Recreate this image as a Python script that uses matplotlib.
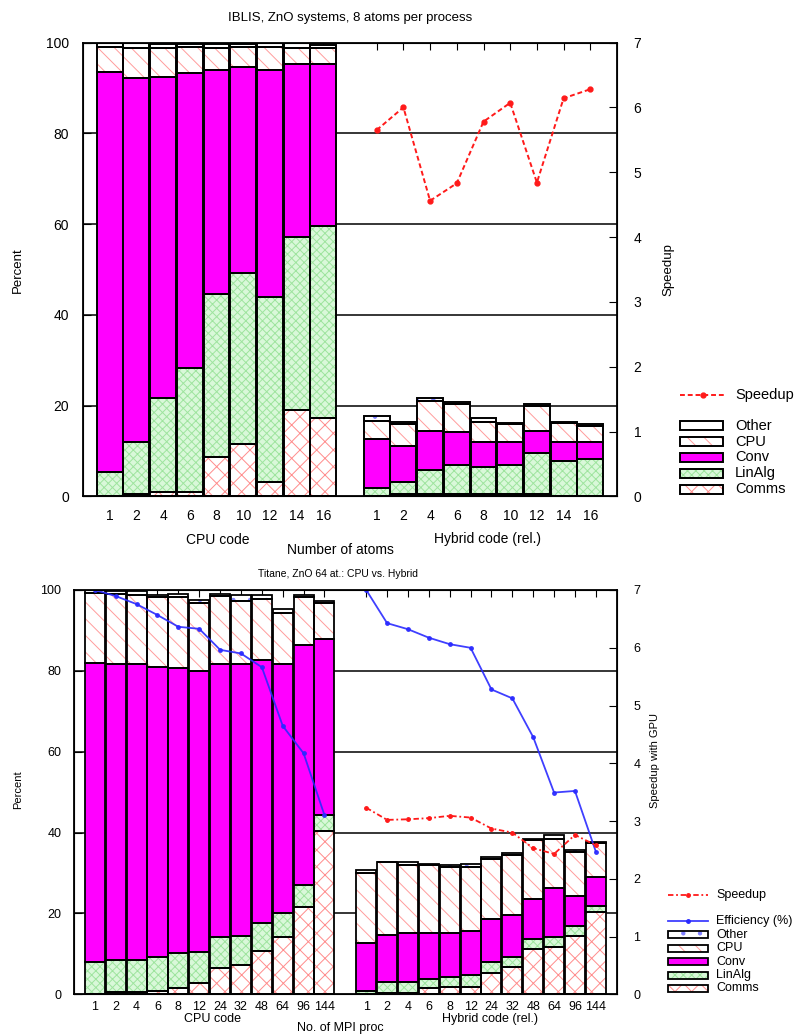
import numpy as np
import matplotlib
matplotlib.use("Agg")
import matplotlib.pyplot as plt
from matplotlib.patches import Rectangle
from matplotlib.lines import Line2D

plt.rcParams['font.family'] = ['Liberation Sans', 'DejaVu Sans']
plt.rcParams['hatch.linewidth'] = 0.7

# ---------------- data: top panel (IBLIS) ----------------
top_labels = ["1", "2", "4", "6", "8", "10", "12", "14", "16"]
top_cpu_comms = [0.0, 0.5, 1.1, 1.1, 8.8, 11.6, 3.1, 19.0, 17.2]
top_cpu_linalg = [5.3, 11.4, 20.5, 27.1, 35.7, 37.7, 40.9, 38.2, 42.4]
top_cpu_conv = [88.1, 80.2, 70.9, 65.1, 49.5, 45.4, 49.9, 38.0, 35.6]
top_cpu_cpu = [5.7, 6.6, 6.2, 5.8, 4.7, 4.2, 5.2, 3.5, 3.5]
top_cpu_other = [0.8, 1.1, 0.9, 0.5, 0.9, 0.7, 0.7, 1.1, 0.7]

top_hyb_comms = [0.0, 0.5, 0.5, 0.5, 0.5, 0.5, 0.5, 0.2, 0.2]
top_hyb_linalg = [1.8, 2.6, 5.3, 6.4, 6.1, 6.4, 9.1, 7.7, 8.1]
top_hyb_conv = [10.9, 8.0, 8.7, 7.2, 5.3, 5.0, 4.9, 4.0, 3.6]
top_hyb_cpu = [4.0, 4.8, 6.6, 6.2, 4.6, 4.0, 5.4, 4.2, 3.7]
top_hyb_other = [1.1, 0.4, 0.7, 0.5, 0.7, 0.2, 0.5, 0.2, 0.4]

top_speedup = [5.65, 6.00, 4.56, 4.83, 5.78, 6.07, 4.84, 6.14, 6.28]

# ---------------- data: bottom panel (Titane) ----------------
bot_labels = ["1", "2", "4", "6", "8", "12", "24", "32", "48", "64", "96", "144"]
bot_cpu_comms = [0.0, 0.5, 0.5, 0.9, 1.6, 2.7, 6.6, 7.2, 10.7, 14.2, 21.5, 40.5]
bot_cpu_linalg = [8.1, 8.0, 8.0, 8.3, 8.5, 7.8, 7.5, 7.3, 6.9, 5.8, 5.5, 3.8]
bot_cpu_conv = [73.9, 73.1, 73.1, 71.8, 70.5, 69.5, 67.5, 67.1, 65.1, 61.6, 59.4, 43.6]
bot_cpu_cpu = [17.3, 17.4, 17.2, 17.2, 17.7, 16.9, 17.0, 15.8, 15.1, 12.8, 11.8, 8.8]
bot_cpu_other = [0.7, 0.8, 0.9, 0.6, 0.8, 0.6, 0.3, 1.4, 1.0, 0.8, 0.6, 0.7]

bot_hyb_comms = [0.0, 0.3, 0.3, 1.5, 1.9, 1.9, 5.2, 6.8, 11.1, 11.8, 14.5, 20.4]
bot_hyb_linalg = [0.8, 2.8, 2.8, 2.2, 2.3, 2.9, 2.9, 2.5, 2.5, 2.3, 2.4, 1.4]
bot_hyb_conv = [12.0, 11.6, 12.0, 11.4, 10.9, 10.9, 10.5, 10.3, 10.0, 12.3, 7.5, 7.1]
bot_hyb_cpu = [17.3, 17.9, 16.9, 16.9, 16.3, 15.7, 14.9, 14.9, 14.6, 11.9, 10.9, 8.4]
bot_hyb_other = [0.6, 0.2, 0.6, 0.2, 0.6, 0.8, 0.5, 0.5, 0.2, 1.1, 0.4, 0.3]

bot_speedup = [3.23, 3.02, 3.03, 3.05, 3.09, 3.06, 2.87, 2.80, 2.53, 2.43, 2.76, 2.58]
bot_eff_cpu = [100.0, 98.5, 96.5, 93.8, 90.9, 90.4, 85.2, 84.3, 80.9, 66.4, 59.6, 44.3]
bot_eff_hyb = [100.0, 91.8, 90.3, 88.2, 86.6, 85.7, 75.4, 73.2, 63.6, 49.9, 50.3, 35.3]

# ---------------- styles ----------------
styles = {
    "Comms": dict(fc="white", hc="#ff8c8c", hatch="xx"),
    "LinAlg": dict(fc="#d9f8d9", hc="#9ee49e", hatch="xxxx"),
    "Conv": dict(fc="#ff00ff", hc=None, hatch=None),
    "CPU": dict(fc="white", hc="#ff9c9c", hatch="\\\\"),
    "Other": dict(fc="white", hc="#8080ff", hatch="."),
}
order = ["Comms", "LinAlg", "Conv", "CPU", "Other"]

W, H = 798, 1034
fig = plt.figure(figsize=(W / 100, H / 100), dpi=100)


def fx(px):
    return px / W


def fy(py):
    return 1 - py / H


def stack(ax, xs, comps, width, lw):
    bottom = np.zeros(len(xs))
    for name, vals in zip(order, comps):
        st = styles[name]
        vals = np.asarray(vals, dtype=float)
        if st["hatch"]:
            ax.bar(xs, vals, width, bottom=bottom, color=st["fc"], edgecolor=st["hc"],
                   hatch=st["hatch"], linewidth=0, zorder=2)
        else:
            ax.bar(xs, vals, width, bottom=bottom, color=st["fc"], linewidth=0, zorder=2)
        ax.bar(xs, vals, width, bottom=bottom, fill=False, edgecolor="black",
               linewidth=lw, zorder=3)
        bottom = bottom + vals


def legend_patch(x0, x1, yc, h, name, lw):
    st = styles[name]
    r = Rectangle((fx(x0), fy(yc + h / 2)), fx(x1) - fx(x0), (h) / H,
                  transform=fig.transFigure, facecolor=st["fc"],
                  edgecolor=st["hc"] if st["hc"] else st["fc"],
                  hatch=st["hatch"], linewidth=0)
    fig.add_artist(r)
    r2 = Rectangle((fx(x0), fy(yc + h / 2)), fx(x1) - fx(x0), (h) / H,
                   transform=fig.transFigure, fill=False, edgecolor="black", linewidth=lw)
    fig.add_artist(r2)


# ================= TOP PANEL =================
ax1 = fig.add_axes([fx(83), fy(496.5), fx(617) - fx(83), (496.5 - 42.5) / H])
n1 = len(top_labels)
x_cpu1 = np.arange(n1)
x_hyb1 = np.arange(n1) + n1 + 1
for g in [20, 40, 60, 80]:
    ax1.axhline(g, color="black", lw=1.1, zorder=1)
stack(ax1, x_cpu1, [top_cpu_comms, top_cpu_linalg, top_cpu_conv, top_cpu_cpu, top_cpu_other], 0.97, 1.4)
stack(ax1, x_hyb1, [top_hyb_comms, top_hyb_linalg, top_hyb_conv, top_hyb_cpu, top_hyb_other], 0.97, 1.4)
ax1.set_xlim(-1, 2 * n1 + 1)
ax1.set_ylim(0, 100)
ax1.set_yticks([0, 20, 40, 60, 80, 100])
ax1.set_xticks(np.concatenate([x_cpu1, x_hyb1]))
ax1.set_xticklabels(top_labels + top_labels)
ax1.tick_params(axis="x", bottom=False, top=True, direction="in", length=5, labelsize=10, pad=9)
ax1.tick_params(axis="y", direction="in", length=6, labelsize=10, pad=10)
for s in ax1.spines.values():
    s.set_linewidth(1.3)
ax1r = ax1.twinx()
ax1r.plot(x_hyb1, top_speedup, color="#ff1a1a", ls=(0, (2.5, 1.5)), lw=1.4, marker="o", ms=3.5, zorder=5)
ax1r.set_ylim(0, 7)
ax1r.set_yticks(range(8))
ax1r.tick_params(axis="y", direction="in", length=6, labelsize=10, pad=12)

fig.text(fx(350), fy(18), "IBLIS, ZnO systems, 8 atoms per process", ha="center", va="center", fontsize=9.5)
fig.text(fx(18), fy(270), "Percent", rotation=90, ha="center", va="center", fontsize=9.5)
fig.text(fx(668), fy(270), "Speedup", rotation=90, ha="center", va="center", fontsize=9.5)
fig.text(fx(218), fy(540), "CPU code", ha="center", va="center", fontsize=10)
fig.text(fx(488), fy(539), "Hybrid code (rel.)", ha="center", va="center", fontsize=10)
fig.text(fx(340), fy(550), "Number of atoms", ha="center", va="center", fontsize=10)

# top legend
fig.add_artist(Line2D([fx(680), fx(726)], [fy(395), fy(395)], transform=fig.transFigure,
                      color="#ff1a1a", ls=(0, (2.5, 1.5)), lw=1.4))
fig.add_artist(Line2D([fx(703)], [fy(395)], transform=fig.transFigure, color="#ff1a1a",
                      marker="o", ms=3.5, ls="none"))
fig.text(fx(735), fy(395), "Speedup", ha="left", va="center", fontsize=10.5)
for name, yc in zip(["Other", "CPU", "Conv", "LinAlg", "Comms"], [426, 441.5, 457, 473, 489]):
    legend_patch(680, 723, yc, 9, name, 1.4)
    fig.text(fx(735), fy(yc), name, ha="left", va="center", fontsize=10.5)

# ================= BOTTOM PANEL =================
ax2 = fig.add_axes([fx(74), fy(994.3), fx(616.7) - fx(74), (994.3 - 590) / H])
n2 = len(bot_labels)
x_cpu2 = np.arange(n2)
x_hyb2 = np.arange(n2) + n2 + 1
for g in [20, 40, 60, 80]:
    ax2.axhline(g, color="black", lw=1.1, zorder=1)
stack(ax2, x_cpu2, [bot_cpu_comms, bot_cpu_linalg, bot_cpu_conv, bot_cpu_cpu, bot_cpu_other], 0.96, 1.3)
stack(ax2, x_hyb2, [bot_hyb_comms, bot_hyb_linalg, bot_hyb_conv, bot_hyb_cpu, bot_hyb_other], 0.96, 1.3)
ax2.plot(x_cpu2, bot_eff_cpu, color="#2a2aff", lw=1.3, marker="o", ms=2.5, zorder=6, alpha=0.9)
ax2.plot(x_hyb2, bot_eff_hyb, color="#2a2aff", lw=1.3, marker="o", ms=2.5, zorder=6, alpha=0.9)
ax2.set_xlim(-1, 2 * n2 + 1)
ax2.set_ylim(0, 100)
ax2.set_yticks([0, 20, 40, 60, 80, 100])
ax2.set_xticks(np.concatenate([x_cpu2, x_hyb2]))
ax2.set_xticklabels(bot_labels + bot_labels)
ax2.tick_params(axis="x", bottom=False, top=True, direction="in", length=5, labelsize=9, pad=5)
ax2.tick_params(axis="y", direction="in", length=6, labelsize=9, pad=9)
for s in ax2.spines.values():
    s.set_linewidth(1.3)
ax2r = ax2.twinx()
ax2r.plot(x_hyb2, bot_speedup, color="#ff1a1a", ls=(0, (3, 1.5, 1, 1.5)), lw=1.3, marker="o", ms=2.5, zorder=5)
ax2r.set_ylim(0, 7)
ax2r.set_yticks(range(8))
ax2r.tick_params(axis="y", direction="in", length=6, labelsize=9, pad=12)

fig.text(fx(338), fy(574), "Titane, ZnO 64 at.: CPU vs. Hybrid", ha="center", va="center", fontsize=7.5)
fig.text(fx(18), fy(790), "Percent", rotation=90, ha="center", va="center", fontsize=8)
fig.text(fx(655), fy(760), "Speedup with GPU", rotation=90, ha="center", va="center", fontsize=8)
fig.text(fx(213), fy(1019), "CPU code", ha="center", va="center", fontsize=9)
fig.text(fx(490), fy(1019), "Hybrid code (rel.)", ha="center", va="center", fontsize=9)
fig.text(fx(340), fy(1028), "No. of MPI proc", ha="center", va="center", fontsize=9)

# bottom legend
fig.add_artist(Line2D([fx(668), fx(708)], [fy(895), fy(895)], transform=fig.transFigure,
                      color="#ff1a1a", ls=(0, (3, 1.5, 1, 1.5)), lw=1.3))
fig.add_artist(Line2D([fx(688)], [fy(895)], transform=fig.transFigure, color="#ff1a1a",
                      marker="o", ms=2.5, ls="none"))
fig.text(fx(716), fy(895), "Speedup", ha="left", va="center", fontsize=9)
fig.add_artist(Line2D([fx(668), fx(708)], [fy(921), fy(921)], transform=fig.transFigure,
                      color="#2a2aff", lw=1.3, alpha=0.9))
fig.add_artist(Line2D([fx(688)], [fy(921)], transform=fig.transFigure, color="#2a2aff",
                      marker="o", ms=2.5, ls="none"))
fig.text(fx(716), fy(921), "Efficiency (%)", ha="left", va="center", fontsize=9)
for name, yc in zip(["Other", "CPU", "Conv", "LinAlg", "Comms"], [934.7, 948.3, 961.7, 975.3, 988.3]):
    legend_patch(668, 708, yc, 7, name, 1.3)
    fig.text(fx(716), fy(yc), name, ha="left", va="center", fontsize=9)

fig.savefig("out.png", dpi=100)
